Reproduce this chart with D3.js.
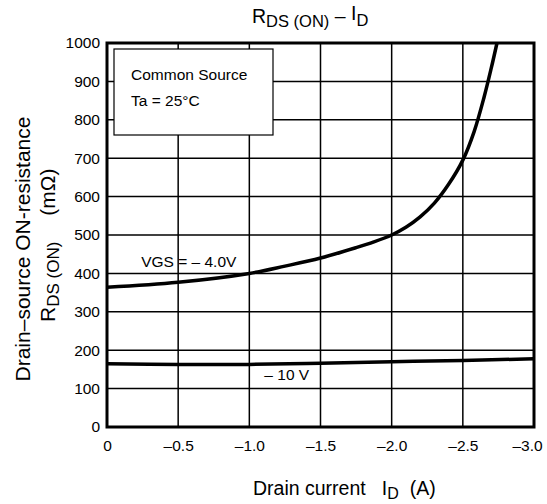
<!DOCTYPE html>
<html>
<head>
<meta charset="utf-8">
<script src="https://cdn.jsdelivr.net/npm/d3@7"></script>
<style>
  body { margin: 0; background: #fff; }
  svg { display: block; font-family: "Liberation Sans", Arial, sans-serif; }
</style>
</head>
<body>
<svg id="chart" width="547" height="504"></svg>
<script>
// Values
const xTicks = [0, -0.5, -1.0, -1.5, -2.0, -2.5, -3.0];
const yTicks = [0, 100, 200, 300, 400, 500, 600, 700, 800, 900, 1000];

const vgs4Id  = [0, -0.5, -1.0, -1.25, -1.5, -1.75, -1.875, -2.0, -2.1, -2.2, -2.3, -2.4, -2.5, -2.58, -2.65, -2.7, -2.74];
const vgs4Rds = [364, 377, 400, 419, 440, 467, 482, 500, 520, 547, 583, 632, 695, 770, 860, 935, 1000];

const vgs10Id  = [0, -0.5, -1.0, -1.5, -2.0, -2.5, -3.0];
const vgs10Rds = [165, 163, 163, 166, 170, 173, 178];

const svg = d3.select("#chart");
const margin = {top: 43, right: 13, bottom: 77, left: 107};
const width = 547 - margin.left - margin.right;
const height = 504 - margin.top - margin.bottom;

const x = d3.scaleLinear().domain([0, -3]).range([0, width]);
const y = d3.scaleLinear().domain([0, 1000]).range([height, 0]);

const g = svg.append("g")
    .attr("transform", `translate(${margin.left},${margin.top})`);

// grid
g.append("g")
    .selectAll("line")
    .data(xTicks)
    .join("line")
    .attr("x1", d => x(d)).attr("x2", d => x(d))
    .attr("y1", 0).attr("y2", height)
    .attr("stroke", "#000").attr("stroke-width", 1.5);

g.append("g")
    .selectAll("line")
    .data(yTicks)
    .join("line")
    .attr("x1", 0).attr("x2", width)
    .attr("y1", d => y(d)).attr("y2", d => y(d))
    .attr("stroke", "#000").attr("stroke-width", 1.5);

// tick labels
const fmt = d => d === 0 ? "0" : "\u2013" + Math.abs(d).toFixed(1);
const xAxis = g.append("g")
    .attr("transform", `translate(0,${height})`)
    .call(d3.axisBottom(x).tickValues(xTicks).tickFormat(fmt).tickSize(0).tickPadding(13));
xAxis.select(".domain").remove();
xAxis.selectAll("text")
    .attr("font-size", 15.5)
    .attr("font-family", "Liberation Sans, Arial, sans-serif")
    .attr("fill", "#000")
    .attr("dx", d => d === -3 ? -7 : 0);

const yAxis = g.append("g")
    .call(d3.axisLeft(y).tickValues(yTicks).tickFormat(d3.format("d")).tickSize(0).tickPadding(7));
yAxis.select(".domain").remove();
yAxis.selectAll("text")
    .attr("font-size", 15.5)
    .attr("font-family", "Liberation Sans, Arial, sans-serif")
    .attr("fill", "#000");

// curves
const line = d3.line()
    .x(d => x(d[0]))
    .y(d => y(d[1]))
    .curve(d3.curveCatmullRom.alpha(0.5));

g.append("path")
    .datum(d3.zip(vgs4Id, vgs4Rds))
    .attr("fill", "none")
    .attr("stroke", "#000")
    .attr("stroke-width", 3.5)
    .attr("d", line);

g.append("path")
    .datum(d3.zip(vgs10Id, vgs10Rds))
    .attr("fill", "none")
    .attr("stroke", "#000")
    .attr("stroke-width", 3.5)
    .attr("d", line);

// frame
g.append("rect")
    .attr("width", width).attr("height", height)
    .attr("fill", "none").attr("stroke", "#000").attr("stroke-width", 3);

// condition box
const key = g.append("g").attr("transform", "translate(7,6)");
key.append("rect")
    .attr("width", 159).attr("height", 86)
    .attr("fill", "#fff").attr("stroke", "#000").attr("stroke-width", 1.2);
key.append("text").attr("x", 17).attr("y", 31)
    .attr("font-size", 15.5).text("Common Source");
key.append("text").attr("x", 17).attr("y", 57)
    .attr("font-size", 15.5).text("Ta = 25\u00b0C");

// curve labels
g.append("text")
    .attr("x", x(-0.5) - 37).attr("y", y(400) - 6)
    .attr("font-size", 15.5)
    .text("VGS = \u2013 4.0V");
g.append("text")
    .attr("x", x(-1.0) + 15).attr("y", y(100) - 9)
    .attr("font-size", 15.5)
    .text("\u2013 10 V");

// title
const title = svg.append("text")
    .attr("x", 252).attr("y", 23)
    .attr("font-size", 19.5);
title.append("tspan").text("R");
title.append("tspan").attr("font-size", 16.5).attr("dy", 4).text("DS (ON)");
title.append("tspan").attr("dy", -4).text(" \u2013 ");
title.append("tspan").attr("dy", -3).text("I");
title.append("tspan").attr("font-size", 16.5).attr("dy", 6).text("D");

// x axis label
const xl = svg.append("text")
    .attr("x", 253).attr("y", 495)
    .attr("font-size", 19.5);
xl.append("tspan").text("Drain current");
xl.append("tspan").attr("dx", 16).text("I");
xl.append("tspan").attr("font-size", 16).attr("dy", 4).text("D");
xl.append("tspan").attr("dx", 11).attr("dy", -4).text("(A)");

// y axis label
svg.append("text")
    .attr("transform", "translate(29.5,249) rotate(-90)")
    .attr("text-anchor", "middle")
    .attr("font-size", 21)
    .text("Drain\u2013source ON-resistance");

const yl = svg.append("text")
    .attr("transform", "translate(55,322) rotate(-90)")
    .attr("font-size", 21);
yl.append("tspan").text("R");
yl.append("tspan").attr("font-size", 17).attr("dy", 4).text("DS (ON)");
yl.append("tspan").attr("dx", 26).attr("dy", -4).text("(m\u03a9)");
</script>
</body>
</html>
